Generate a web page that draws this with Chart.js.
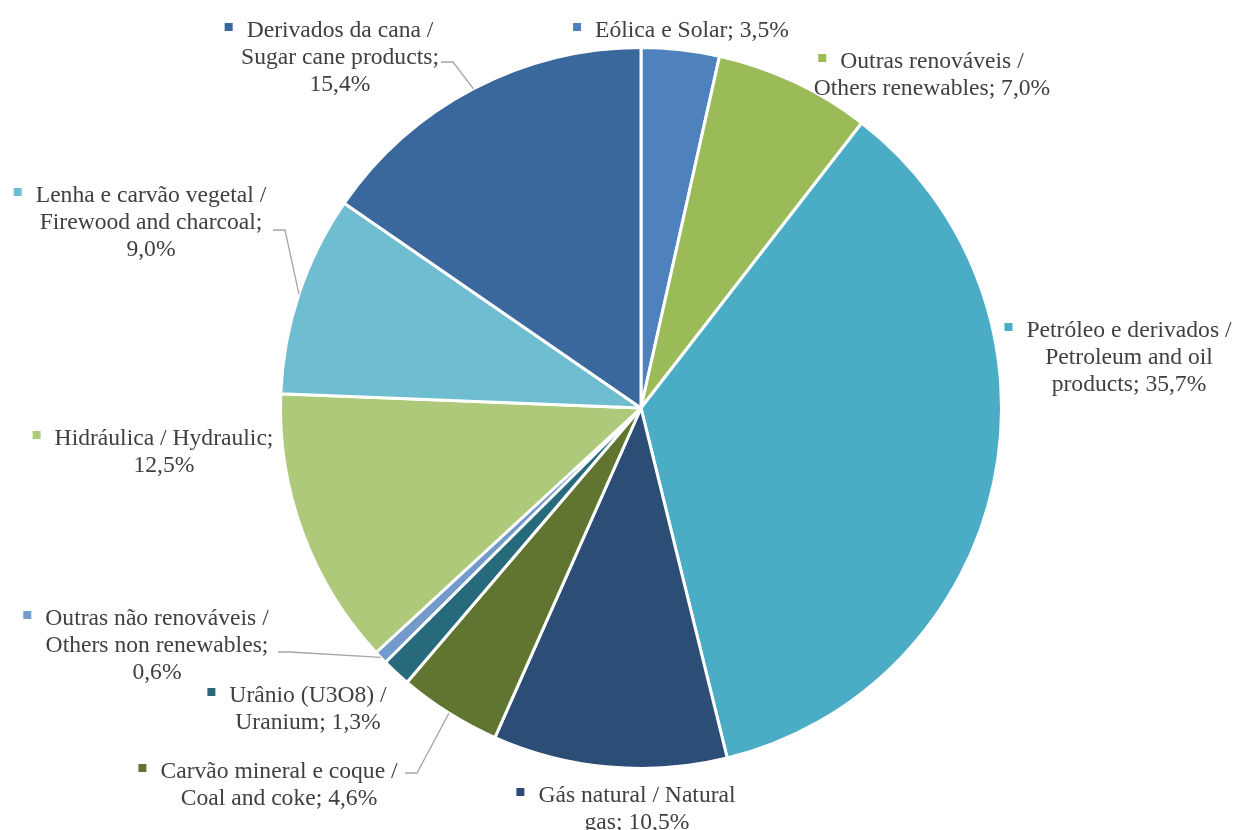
<!DOCTYPE html>
<html>
<head>
<meta charset="utf-8">
<title>Oferta interna de energia</title>
<script src="https://cdn.jsdelivr.net/npm/chart.js@4.4.0/dist/chart.umd.min.js"></script>
<style>
  html, body { margin: 0; padding: 0; background: #ffffff; }
  #wrap { width: 1239px; height: 830px; }
</style>
</head>
<body>
<div id="wrap"><canvas id="chart" width="1239" height="830"></canvas></div>
<script>
// Energy sources, clockwise from 12 o'clock
const categories = [
  'Eólica e Solar',
  'Outras renováveis / Others renewables',
  'Petróleo e derivados / Petroleum and oil products',
  'Gás natural / Natural gas',
  'Carvão mineral e coque / Coal and coke',
  'Urânio (U3O8) / Uranium',
  'Outras não renováveis / Others non renewables',
  'Hidráulica / Hydraulic',
  'Lenha e carvão vegetal / Firewood and charcoal',
  'Derivados da cana / Sugar cane products'
];

// Share of the total, in percent
const shares = [3.5, 7.0, 35.7, 10.5, 4.6, 1.3, 0.6, 12.5, 9.0, 15.4];

const sliceColors = [
  '#4F81BD', '#9BBB59', '#4BACC6', '#2C4D75', '#5F7530',
  '#276A7C', '#729ACA', '#AFC97A', '#6FBDD1', '#3A679C'
];

// Label boxes: text centre x, baseline of the first line, wrap width,
// and the optional start of a leader line
const labelBoxes = [
  { cx: 692,  by: 37,  wrap: 300 },
  { cx: 932,  by: 68,  wrap: 246 },
  { cx: 1129, by: 337, wrap: 210 },
  { cx: 637,  by: 802, wrap: 210 },
  { cx: 279,  by: 778, wrap: 245, leader: [405, 773] },
  { cx: 308,  by: 702, wrap: 170 },
  { cx: 157,  by: 625, wrap: 235, leader: [278, 652] },
  { cx: 164,  by: 445, wrap: 235 },
  { cx: 151,  by: 202, wrap: 240, leader: [273, 230] },
  { cx: 340,  by: 37,  wrap: 215, leader: [441, 62] }
];

const LABEL_FONT = '23.6px "Liberation Serif", "Times New Roman", serif';
const LINE_H = 27;

function fmtPct(v) {
  return v.toFixed(1).replace('.', ',') + '%';
}

function wrapWords(ctx, text, maxW) {
  const words = text.split(' ');
  const lines = [];
  let cur = '';
  for (const w of words) {
    const test = cur ? cur + ' ' + w : w;
    if (cur && ctx.measureText(test).width > maxW) {
      lines.push(cur);
      cur = w;
    } else {
      cur = test;
    }
  }
  if (cur) lines.push(cur);
  return lines;
}

const outsideLabels = {
  id: 'outsideLabels',
  afterDatasetsDraw(chart) {
    const ctx = chart.ctx;
    const meta = chart.getDatasetMeta(0);
    const values = chart.data.datasets[0].data;
    const colors = chart.data.datasets[0].backgroundColor;
    ctx.save();
    ctx.font = LABEL_FONT;
    ctx.textBaseline = 'alphabetic';
    ctx.textAlign = 'center';
    meta.data.forEach((arc, i) => {
      const box = labelBoxes[i];
      const p = arc.getProps(['x', 'y', 'startAngle', 'endAngle', 'outerRadius'], true);
      const mid = (p.startAngle + p.endAngle) / 2;
      const ax = p.x + Math.cos(mid) * p.outerRadius;
      const ay = p.y + Math.sin(mid) * p.outerRadius;

      // leader line from the label to the slice edge
      if (box.leader) {
        const [lx, ly] = box.leader;
        const dir = ax >= lx ? 1 : -1;
        ctx.beginPath();
        ctx.moveTo(lx, ly);
        ctx.lineTo(lx + dir * 12, ly);
        ctx.lineTo(ax, ay);
        ctx.strokeStyle = '#A6A6A6';
        ctx.lineWidth = 1.3;
        ctx.stroke();
      }

      const text = chart.data.labels[i] + '; ' + fmtPct(values[i]);
      const lines = wrapWords(ctx, text, box.wrap);
      ctx.fillStyle = '#404040';
      lines.forEach((ln, k) => {
        ctx.fillText(ln, box.cx, box.by + k * LINE_H);
      });

      // colour key in front of the first line
      const w0 = ctx.measureText(lines[0]).width;
      const left = box.cx - w0 / 2;
      ctx.fillStyle = colors[i];
      ctx.fillRect(left - 22, box.by - 14, 8, 8);
    });
    ctx.restore();
  }
};

new Chart(document.getElementById('chart'), {
  type: 'pie',
  data: {
    labels: categories,
    datasets: [{
      data: shares,
      backgroundColor: sliceColors,
      borderColor: '#ffffff',
      borderWidth: 3
    }]
  },
  options: {
    responsive: false,
    animation: false,
    events: [],
    layout: { padding: { top: 46, bottom: 60, left: 100, right: 57 } },
    plugins: {
      legend: { display: false },
      tooltip: { enabled: false }
    }
  },
  plugins: [outsideLabels]
});
</script>
</body>
</html>
